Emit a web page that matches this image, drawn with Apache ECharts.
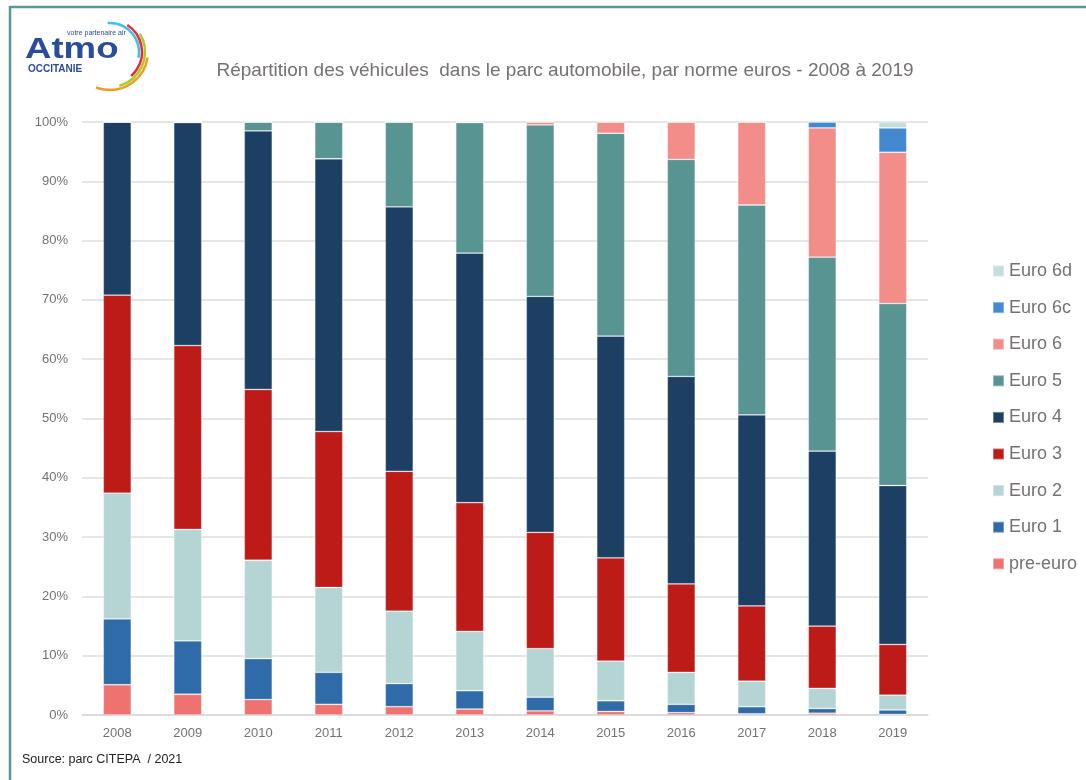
<!DOCTYPE html>
<html lang="fr">
<head>
    <meta charset="UTF-8">
    <title>Parc automobile par norme euro</title>
  <style>
    body{
        margin: 0;
        background: #fff;
    }
    #chart_parc{
      width: 1086px;
      height: 780px;
    }
  </style>
</head>
<body>
<div id="chart_parc"></div>

<script src="https://cdn.jsdelivr.net/npm/echarts@6/dist/echarts.min.js"></script>

<script>
  // données (% du parc)
  let annees = ['2008', '2009', '2010', '2011', '2012', '2013', '2014', '2015', '2016', '2017', '2018', '2019'];
  let yTicks = [0, 10, 20, 30, 40, 50, 60, 70, 80, 90, 100];
  let preEuro = [5.1, 3.5, 2.6, 1.8, 1.4, 1.0, 0.7, 0.6, 0.4, 0.2, 0.3, 0.1];
  let euro1 = [11.1, 9.0, 6.9, 5.4, 3.9, 3.1, 2.3, 1.8, 1.4, 1.2, 0.8, 0.75];
  let euro2 = [21.2, 18.8, 16.6, 14.3, 12.2, 10.0, 8.2, 6.7, 5.4, 4.3, 3.4, 2.5];
  let euro3 = [33.4, 31.0, 28.8, 26.3, 23.6, 21.7, 19.6, 17.4, 14.9, 12.7, 10.5, 8.55];
  let euro4 = [29.2, 37.6, 43.6, 46.0, 44.6, 42.1, 39.8, 37.4, 35.0, 32.2, 29.5, 26.8];
  let euro5 = [0, 0.1, 1.5, 6.2, 14.3, 22.0, 28.9, 34.2, 36.6, 35.4, 32.7, 30.7];
  let euro6 = [0, 0, 0, 0, 0, 0.1, 0.5, 1.9, 6.3, 14.0, 21.8, 25.5];
  let euro6c = [0, 0, 0, 0, 0, 0, 0, 0, 0, 0, 1.0, 4.1];
  let euro6d = [0, 0, 0, 0, 0, 0, 0, 0, 0, 0, 0, 1.0];

  let normes = ['pre-euro', 'Euro 1', 'Euro 2', 'Euro 3', 'Euro 4', 'Euro 5', 'Euro 6', 'Euro 6c', 'Euro 6d'];
  let couleurs = ['#ee7370', '#2e6ba8', '#b5d5d4', '#bc1b18', '#1c3f63', '#579492', '#f28d8a', '#4289cf', '#c3dedd'];
  let valeurs = [preEuro, euro1, euro2, euro3, euro4, euro5, euro6, euro6c, euro6d];

  let gris = '#767171';
  let police = "'Liberation Sans', Arial, sans-serif";

  let myChart = echarts.init(document.getElementById('chart_parc'));

  let series = normes.map(function (nom, i) {
    return {
      name: nom,
      type: 'bar',
      stack: 'parc',
      barWidth: 28,
      itemStyle: {
        color: couleurs[i],
        borderColor: 'rgba(255,255,255,0.35)',
        borderWidth: 0.8
      },
      data: valeurs[i]
    };
  });

  let option = {
    animation: false,
    textStyle: {
      fontFamily: police
    },
    title: {
      text: 'Répartition des véhicules  dans le parc automobile, par norme euros - 2008 à 2019',
      left: 560,
      top: 56,
      textAlign: 'center',
      textStyle: {
        color: gris,
        fontSize: 19,
        fontWeight: 'normal'
      }
    },
    legend: {
      orient: 'vertical',
      left: 987,
      top: 256,
      itemWidth: 11,
      itemHeight: 11,
      itemGap: 16.6,
      icon: 'rect',
      data: normes.slice().reverse(),
      textStyle: {
        color: gris,
        fontSize: 18,
        lineHeight: 20
      }
    },
    grid: {
      left: 82,
      right: 158,
      top: 122,
      bottom: 65
    },
    xAxis: {
      type: 'category',
      data: annees,
      axisTick: {show: false},
      axisLine: {lineStyle: {color: '#d9d9d9', width: 1.5}},
      axisLabel: {
        color: gris,
        fontSize: 13,
        margin: 12
      }
    },
    yAxis: {
      type: 'value',
      min: yTicks[0],
      max: yTicks[yTicks.length - 1],
      interval: yTicks[1] - yTicks[0],
      axisLine: {show: false},
      axisTick: {show: false},
      splitLine: {lineStyle: {color: '#dedede', width: 1.5}},
      axisLabel: {
        formatter: '{value}%',
        color: gris,
        fontSize: 13,
        margin: 14
      }
    },
    series: series,
    graphic: [
      // cadre
      {type: 'line', shape: {x1: 10, y1: 7, x2: 1086, y2: 7}, style: {stroke: '#589896', lineWidth: 2.5}},
      {type: 'line', shape: {x1: 10, y1: 6, x2: 10, y2: 780}, style: {stroke: '#589896', lineWidth: 2.5}},
      // logo
      {type: 'text', x: 25, y: 35, scaleX: 1.22, style: {text: 'Atmo', fill: '#2b4c9b', font: 'bold 30px ' + police}},
      {type: 'text', x: 67, y: 30, style: {text: 'votre partenaire air', fill: '#2b4c9b', font: '7px ' + police}},
      {type: 'text', x: 28, y: 64, style: {text: 'OCCITANIE', fill: '#2b4c9b', font: 'bold 10px ' + police}},
      {type: 'arc', shape: {cx: 110, cy: 52, r: 29, startAngle: -1.65, endAngle: 0.2}, style: {stroke: '#3fc1e8', lineWidth: 2.5, fill: null}},
      {type: 'arc', shape: {cx: 110, cy: 52, r: 32, startAngle: -1.0, endAngle: 0.85}, style: {stroke: '#e52d3f', lineWidth: 2.5, fill: null}},
      {type: 'arc', shape: {cx: 110, cy: 52, r: 35, startAngle: -0.55, endAngle: 1.3}, style: {stroke: '#a8cc2e', lineWidth: 2.5, fill: null}},
      {type: 'arc', shape: {cx: 110, cy: 52, r: 38, startAngle: 0.15, endAngle: 1.95}, style: {stroke: '#f39a1f', lineWidth: 2.5, fill: null}},
      // source
      {type: 'text', x: 22, y: 753, style: {text: 'Source: parc CITEPA  / 2021', fill: '#222', font: '12.5px ' + police}}
    ]
  };

  myChart.setOption(option);
</script>

</body>
</html>
